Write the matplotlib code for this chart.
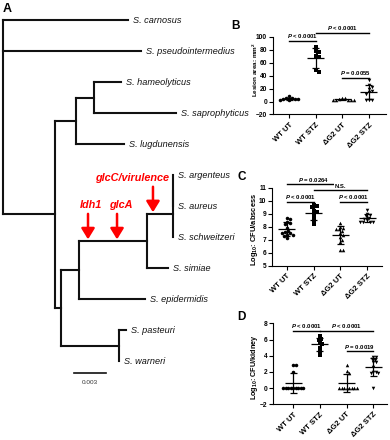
import numpy as np
import matplotlib
matplotlib.use('Agg')
import matplotlib.pyplot as plt
import matplotlib.transforms as mtransforms

plt.rcParams['font.family'] = ['Liberation Sans', 'DejaVu Sans']
plt.rcParams['font.weight'] = 'bold'
plt.rcParams['mathtext.fontset'] = 'custom'
plt.rcParams['mathtext.rm'] = 'Liberation Sans:bold'
plt.rcParams['mathtext.it'] = 'Liberation Sans:bold:italic'
plt.rcParams['mathtext.bf'] = 'Liberation Sans:bold'

# ---------------- tree data ----------------
node_names = ['', 'S. carnosus', 'S. pseudointermedius', '', '', '',
              'S. hameolyticus', 'S. saprophyticus', 'S. lugdunensis', '', '', '', '', '',
              'S. argenteus', 'S. aureus', 'S. schweitzeri', 'S. simiae', 'S. epidermidis', '',
              'S. pasteuri', 'S. warneri']
node_parent = [-1, 0, 0, 0, 3, 4, 5, 5, 4, 3, 9, 10, 11, 12, 13, 13, 12, 11, 10, 9, 19, 19]
branch_len = [0.0, 0.01172, 0.01294, 0.00488, 0.00192, 0.00169, 0.00253, 0.00769, 0.00459,
              0.00056, 0.00169, 0.00638, 0.00244, 0.0, 0.0, 0.0, 0.0, 0.00197, 0.00619,
              0.00544, 0.00066, 0.0]
scale_bar_len = 0.003
scale_bar_label = '0.003'

gene_labels = ['ldh1', 'glcA', 'glcC/virulence']
gene_node = [11, 11, 12]
gene_depth = [0.00797, 0.01069, 0.01406]

# ---------------- dot plot data ----------------
groups = ['WT UT', 'WT STZ', 'ΔG2 UT', 'ΔG2 STZ']
markers = ['o', 's', '^', 'v']

lesion_wt_ut = [8, 5, 5, 4, 4, 4, 3, 2]
lesion_wt_stz = [84, 78, 77, 70, 68, 48, 46]
lesion_g2_ut = [5, 5, 4, 3, 3, 3, 2, 2]
lesion_g2_stz = [33, 25, 23, 19, 16, 14, 12, 3, 2, 2]

abscess_wt_ut = [8.7, 8.6, 8.4, 8.3, 8.2, 7.9, 7.7, 7.6, 7.5, 7.5, 7.4, 7.4, 7.3, 7.1]
abscess_wt_stz = [9.7, 9.6, 9.5, 9.2, 9.1, 8.8, 8.5, 8.2]
abscess_g2_ut = [8.3, 8.0, 7.9, 7.8, 7.8, 7.7, 7.5, 7.4, 7.2, 7.0, 6.8, 6.2, 6.2]
abscess_g2_stz = [9.3, 9.0, 8.9, 8.8, 8.7, 8.6, 8.5, 8.4, 8.4, 8.4, 8.4]

kidney_wt_ut = [2.9, 2.9, 2.0, 0, 0, 0, 0, 0, 0, 0, 0, 0]
kidney_wt_stz = [6.4, 6.1, 5.9, 5.6, 5.4, 5.0, 4.6, 4.1]
kidney_g2_ut = [2.9, 2.1, 1.9, 0, 0, 0, 0, 0, 0, 0, 0]
kidney_g2_stz = [3.9, 3.8, 3.6, 3.5, 3.2, 3.2, 2.6, 2.0, 2.0, 1.9, 1.9, 0.0]

b_sig_pairs = [(0, 1), (1, 3), (2, 3)]
b_sig_y = [94.1, 106.4, 37.0]
b_sig_text = ['$P$ < 0.0001', '$P$ < 0.0001', '$P$ = 0.0055']

c_sig_pairs = [(0, 2), (1, 3), (0, 1), (2, 3)]
c_sig_y = [11.26, 10.82, 9.92, 9.92]
c_sig_text = ['$P$ = 0.0264', 'N.S.', '$P$ < 0.0001', '$P$ < 0.0001']

d_sig_pairs = [(0, 1), (1, 3), (2, 3)]
d_sig_y = [7.08, 7.08, 4.6]
d_sig_text = ['$P$ < 0.0001', '$P$ < 0.0001', '$P$ = 0.0019']

# ---------------- figure ----------------
W, H = 390, 440
fig = plt.figure(figsize=(W / 100, H / 100), dpi=100)


def rect(l, t, r, b):
    return [l / W, 1 - b / H, (r - l) / W, (b - t) / H]


# ---- tree layout ----
n = len(node_parent)
children = {i: [] for i in range(n)}
for i, p in enumerate(node_parent):
    if p >= 0:
        children[p].append(i)
depth = np.zeros(n)
for i in range(1, n):
    depth[i] = depth[node_parent[i]] + branch_len[i]
leaves = []


def dfs(k):
    if not children[k]:
        leaves.append(k)
    for c in children[k]:
        dfs(c)


dfs(0)
ypos = np.zeros(n)
for idx, lf in enumerate(leaves):
    ypos[lf] = idx


def sety(k):
    if children[k]:
        ypos[k] = np.mean([sety(c) for c in children[k]])
    return ypos[k]


sety(0)

s = scale_bar_len / 32.0   # distance per pixel
row = 31.0                 # pixels per leaf row
axt = fig.add_axes(rect(0, 0, 260, H))
axt.set_xlim(-3 * s, 257 * s)
axt.set_ylim((H - 20) / row, -20 / row)
axt.axis('off')
lc = '#111111'
for k in range(1, n):
    axt.plot([depth[node_parent[k]], depth[k]], [ypos[k], ypos[k]], color=lc, lw=1.5,
             solid_capstyle='projecting')
for k in range(n):
    if children[k]:
        ys = [ypos[c] for c in children[k]]
        axt.plot([depth[k], depth[k]], [min(ys), max(ys)], color=lc, lw=1.5,
                 solid_capstyle='projecting')
    elif node_names[k]:
        axt.text(depth[k] + 5 * s, ypos[k], node_names[k], ha='left', va='center',
                 fontsize=6.6, style='italic', fontweight='normal', color='#111111')

gene_ha = ['center', 'center', 'right']
gene_dx = [3, 4, 16]
for lab, nd, dx_, ha, gx in zip(gene_labels, gene_node, gene_depth, gene_ha, gene_dx):
    yb = ypos[nd]
    axt.annotate('', xy=(dx_, yb - 1.5 / row), xytext=(dx_, yb - 27 / row),
                 arrowprops=dict(arrowstyle='-|>,head_length=0.65,head_width=0.4',
                                 color='#ff0000', lw=1.8, shrinkA=0, shrinkB=0,
                                 mutation_scale=10))
    axt.text(dx_ + gx * s, yb - 36 / row, lab, ha=ha, va='center', color='#ff0000',
             fontsize=7.8, fontweight='bold', style='italic')

sb_x0 = 71 * s
sb_y = (373 - 20) / row
axt.plot([sb_x0, sb_x0 + scale_bar_len], [sb_y, sb_y], color=lc, lw=1.2)
axt.text(sb_x0 + scale_bar_len / 2, sb_y + 9 / row, scale_bar_label, ha='center', va='center',
         fontsize=4.6, fontweight='normal', color='#333333')


# ---- dot plots ----
def swarm(ax, xc, vals, d):
    pts = ax.transData.transform(np.column_stack([np.full(len(vals), float(xc)), vals]))
    ypx = pts[:, 1]
    xunit = ax.transData.transform((1, 0))[0] - ax.transData.transform((0, 0))[0]
    cands = [0.0]
    for m in range(1, 40):
        cands += [m * d / 2, -m * d / 2]
    placed = []
    offs = np.zeros(len(vals))
    for i in np.argsort(-np.asarray(vals), kind='stable'):
        for c in cands:
            if all((c - px) ** 2 + (ypx[i] - py) ** 2 >= d * d * 0.98 for px, py in placed):
                break
        placed.append((c, ypx[i]))
        offs[i] = c / xunit
    return offs


def panel(ax, data, xlim, ylim, yticks, ylabel, ylsize, sig_pairs, sig_y, sig_text, d=3.0):
    ax.set_xlim(*xlim)
    ax.set_ylim(*ylim)
    for sp in ['top', 'right']:
        ax.spines[sp].set_visible(False)
    for sp in ['left', 'bottom']:
        ax.spines[sp].set_linewidth(0.8)
    ax.set_yticks(yticks)
    ax.set_xticks(range(len(groups)))
    ax.set_xticklabels(groups, rotation=45, ha='right', rotation_mode='anchor', fontsize=5.5)
    ax.tick_params(direction='out', length=3, width=0.8, pad=1.2, labelsize=4.8)
    ax.tick_params(axis='x', labelsize=5.5, pad=2)
    for g, vals in enumerate(data):
        vals = np.asarray(vals, float)
        offs = swarm(ax, g, vals, d)
        ax.scatter(g + offs, vals, marker=markers[g], s=6.5, c='black', linewidths=0,
                   zorder=3, clip_on=False)
        m = vals.mean()
        sd = vals.std(ddof=1)
        ax.hlines(m, g - 0.32, g + 0.32, color='black', lw=0.9, zorder=4)
        ax.vlines(g, m - sd, m + sd, color='black', lw=0.9, zorder=4)
        ax.hlines([m - sd, m + sd], g - 0.13, g + 0.13, color='black', lw=0.9, zorder=4)
    tr = mtransforms.offset_copy(ax.transData, fig=fig, y=2.3, units='dots')
    for (i, j), yv, txt in zip(sig_pairs, sig_y, sig_text):
        ax.plot([i, j], [yv, yv], color='black', lw=1.0, clip_on=False, zorder=2)
        bb = dict(facecolor='white', edgecolor='none', pad=0.3) if 'N.S.' in txt else None
        ax.text((i + j) / 2, yv, txt, transform=tr, ha='center', va='baseline',
                fontsize=4.3, fontweight='bold', bbox=bb, zorder=5, clip_on=False)
    ax.set_ylabel(ylabel, fontsize=ylsize, fontweight='bold')


def label_x(px, l, r):
    return (px - l) / (r - l)


axb = fig.add_axes(rect(273, 36.7, 386, 114.5))
panel(axb, [lesion_wt_ut, lesion_wt_stz, lesion_g2_ut, lesion_g2_stz],
      (-0.61, 3.65), (-20, 100), range(-20, 101, 20), 'Lesion area: mm$^2$', 4.6,
      b_sig_pairs, b_sig_y, b_sig_text, d=3.0)
axb.yaxis.set_label_coords(label_x(260, 273, 386), 0.58)

axc = fig.add_axes(rect(272, 187.7, 382, 265.7))
panel(axc, [abscess_wt_ut, abscess_wt_stz, abscess_g2_ut, abscess_g2_stz],
      (-0.56, 3.56), (5, 11), range(5, 12), 'Log$_{10}$: CFU/abscess', 5.4,
      c_sig_pairs, c_sig_y, c_sig_text, d=3.0)
axc.yaxis.set_label_coords(label_x(260, 272, 382), 0.46)

axd = fig.add_axes(rect(273, 323.3, 387, 404.3))
panel(axd, [kidney_wt_ut, kidney_wt_stz, kidney_g2_ut, kidney_g2_stz],
      (-0.75, 3.51), (-2, 8), range(-2, 9, 2), 'Log$_{10}$: CFU/kidney', 5.2,
      d_sig_pairs, d_sig_y, d_sig_text, d=2.5)
axd.yaxis.set_label_coords(label_x(260, 273, 387), 0.46)

for lab, x, y, fs in [('A', 7, 9, 9), ('B', 235.5, 26, 8.5), ('C', 242, 177.5, 8.5),
                      ('D', 241.5, 317, 8.5)]:
    fig.text(x / W, 1 - y / H, lab, ha='center', va='center', fontsize=fs, fontweight='bold')

fig.savefig('out.png', dpi=100)
